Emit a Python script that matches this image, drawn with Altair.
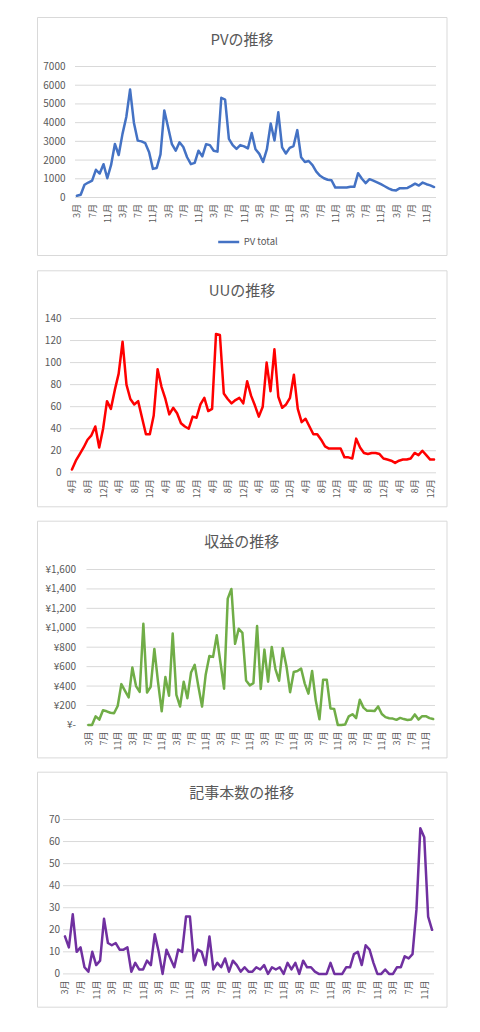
import altair as alt
import pandas as pd

FONT = "Noto Sans CJK JP"
TEXT_GRAY = "#595959"
GRID_GRAY = "#d9d9d9"

# ---------------- data ----------------
pv_values = [
    90, 150, 680, 800, 900, 1480, 1280, 1780, 1030, 1740,
    2860, 2270, 3400, 4300, 5770, 4000, 3040, 3000, 2900, 2420,
    1530, 1580, 2300, 4650, 3750, 2850, 2500, 2950, 2700, 2150,
    1780, 1850, 2500, 2200, 2850, 2800, 2500, 2450, 5330, 5230,
    3130, 2800, 2600, 2800, 2730, 2620, 3450, 2580, 2330, 1900,
    2580, 3950, 3050, 4550, 2680, 2350, 2650, 2750, 3600, 2150,
    1900, 1950, 1730, 1380, 1160, 1030, 950, 920, 530, 530,
    530, 530, 570, 570, 1300, 1000, 770, 980, 900, 810,
    710, 600, 490, 400, 380, 500, 500, 510, 620, 740,
    640, 800, 710, 650, 560,
]

uu_values = [
    3, 11, 17, 23, 30, 34, 42, 23, 40, 65,
    58, 75, 90, 119, 80, 67, 62, 65, 50, 35,
    35, 52, 94, 78, 67, 53, 59, 54, 45, 42,
    40, 51, 50, 62, 68, 56, 58, 126, 125, 72,
    67, 63, 66, 68, 63, 83, 70, 61, 51, 60,
    100, 74, 112, 69, 59, 62, 68, 89, 58, 46,
    49, 42, 35, 35, 30, 24, 22, 22, 22, 22,
    14, 14, 13, 31, 23, 18, 17, 18, 18, 17,
    13, 12, 11, 9, 11, 12, 12, 13, 18, 16,
    20, 16, 12, 12,
]

revenue_values = [
    0, 0, 88, 55, 150, 140, 125, 120, 195, 420,
    350, 283, 592, 400, 340, 1042, 333, 393, 782, 440,
    140, 492, 300, 940, 310, 190, 445, 275, 540, 618,
    395, 188, 520, 710, 700, 922, 645, 373, 1300, 1400,
    835, 990, 948, 457, 407, 430, 1018, 370, 775, 445,
    803, 575, 455, 790, 605, 337, 545, 555, 580, 425,
    322, 555, 250, 58, 465, 465, 170, 165, 0, 0,
    3, 88, 110, 70, 258, 178, 145, 145, 142, 190,
    112, 80, 68, 65, 52, 72, 60, 50, 55, 108,
    55, 90, 90, 70, 60,
]

articles_values = [
    17, 12, 27, 10, 12, 3, 1, 10, 4, 6,
    25, 14, 13, 14, 11, 11, 12, 1, 5, 2,
    2, 6, 4, 18, 10, 0, 11, 7, 3, 11,
    10, 26, 26, 6, 11, 10, 4, 17, 2, 5,
    3, 7, 1, 6, 4, 1, 3, 1, 1, 3,
    2, 4, 0, 3, 2, 3, 0, 5, 2, 5,
    0, 6, 3, 3, 1, 0, 0, 0, 5, 0,
    0, 0, 3, 3, 9, 10, 4, 13, 11, 5,
    0, 0, 2, 0, 0, 3, 3, 8, 7, 9,
    29, 66, 62, 26, 20,
]

titles = ["PVの推移", "UUの推移", "収益の推移", "記事本数の推移"]
legend_name = "PV total"
colors = ["#4472C4", "#FF0000", "#70AD47", "#7030A0"]

pv_ticks = [0, 1000, 2000, 3000, 4000, 5000, 6000, 7000]
uu_ticks = [0, 20, 40, 60, 80, 100, 120, 140]
revenue_ticks = [0, 200, 400, 600, 800, 1000, 1200, 1400, 1600]
articles_ticks = [0, 10, 20, 30, 40, 50, 60, 70]


def month_keys(start_year, start_month, n):
    keys = []
    y, m = start_year, start_month
    for _ in range(n):
        keys.append(f"{y}年{m}月")
        m += 1
        if m > 12:
            m = 1
            y += 1
    return keys


def month_of(key):
    return int(key.split("年")[1].rstrip("月"))


# ---------------- layout (page pixel coordinates) ----------------
BOX_L, BOX_R = 37.5, 447
COMMON_L = 62          # shared origin of every panel's plot group
COMMON_W = 374


def panel(keys, values, color, title, label_months, ticks, y_label_expr,
          y_label_pad, plot_l, plot_t, plot_w, plot_h, box_t, box_b,
          title_x, title_y, legend=False):
    df = pd.DataFrame({"月": keys, "値": values, "系列": [legend_name] * len(keys)})
    label_vals = [k for k in keys if month_of(k) in label_months]
    x0 = plot_l - COMMON_L          # where this panel's plot area starts in the group
    x1 = x0 + plot_w

    x = alt.X(
        "月:O", sort=keys,
        scale=alt.Scale(type="point", padding=0.5, range=[x0, x1]),
        axis=alt.Axis(
            values=label_vals, labelExpr="split(datum.value, '年')[1]",
            labelAngle=270, labelFontSize=9, labelColor=TEXT_GRAY, labelFont=FONT,
            labelPadding=6, labelOverlap=False, ticks=False, grid=False,
            domain=False, title=None,
        ),
    )
    yaxis_kw = dict(
        values=ticks, grid=False, domain=False, ticks=False,
        labelColor=TEXT_GRAY, labelFontSize=10, labelFont=FONT,
        labelPadding=y_label_pad, offset=-x0, title=None,
    )
    if y_label_expr:
        yaxis_kw["labelExpr"] = y_label_expr
    else:
        yaxis_kw["format"] = "d"
    yscale = alt.Scale(domain=[0, ticks[-1]], nice=False)
    y = alt.Y("値:Q", scale=yscale, axis=alt.Axis(**yaxis_kw))

    enc = dict(x=x, y=y)
    if legend:
        enc["color"] = alt.Color(
            "系列:N",
            scale=alt.Scale(domain=[legend_name], range=[color]),
            legend=alt.Legend(
                title=None, orient="none",
                legendX=216.7 - COMMON_L, legendY=240 - plot_t - 10.5,
                symbolType="stroke", symbolSize=441, symbolStrokeWidth=2.5,
                labelFontSize=9.5, labelColor=TEXT_GRAY, labelFont=FONT,
                labelOffset=3, padding=0,
            ),
        )
        line = alt.Chart(df).mark_line(strokeWidth=2.5, strokeJoin="round",
                                       strokeCap="round").encode(**enc)
    else:
        line = alt.Chart(df).mark_line(color=color, strokeWidth=2.5, strokeJoin="round",
                                       strokeCap="round").encode(**enc)

    grid = alt.Chart(pd.DataFrame({"値": ticks})).mark_rule(
        color=GRID_GRAY, strokeWidth=1
    ).encode(
        y=alt.Y("値:Q", scale=yscale, axis=alt.Axis(**yaxis_kw)),
        x=alt.value(x0), x2=alt.value(x1),
    )

    border = alt.Chart(pd.DataFrame({"b": [0]})).mark_rect(
        fill="white", fillOpacity=0, stroke=GRID_GRAY, strokeWidth=1
    ).encode(
        x=alt.value(BOX_L - COMMON_L), x2=alt.value(BOX_R - COMMON_L),
        y=alt.value(box_t - plot_t), y2=alt.value(box_b - plot_t),
    )

    head = alt.Chart(pd.DataFrame({"t": [title]})).mark_text(
        font=FONT, fontSize=15, color=TEXT_GRAY, align="center", baseline="middle"
    ).encode(
        text="t:N", x=alt.value(title_x - COMMON_L), y=alt.value(title_y - plot_t)
    )

    return alt.layer(border, grid, line, head).properties(width=COMMON_W, height=plot_h)


pv_keys = month_keys(2016, 3, len(pv_values))
uu_keys = month_keys(2016, 4, len(uu_values))
rev_keys = month_keys(2016, 3, len(revenue_values))
art_keys = month_keys(2016, 3, len(articles_values))

p1 = panel(pv_keys, pv_values, colors[0], titles[0], [3, 7, 11], pv_ticks, None, 10,
           plot_l=75, plot_t=66, plot_w=361, plot_h=131, box_t=17, box_b=255,
           title_x=242, title_y=39.3, legend=True)
p2 = panel(uu_keys, uu_values, colors[1], titles[1], [4, 8, 12], uu_ticks, None, 9,
           plot_l=70, plot_t=316.7, plot_w=366, plot_h=154.3, box_t=269, box_b=505,
           title_x=242, title_y=289.3)
p3 = panel(rev_keys, revenue_values, colors[2], titles[2], [3, 7, 11], revenue_ticks,
           "datum.value == 0 ? '¥-' : '¥' + format(datum.value, ',')", 11,
           plot_l=86.5, plot_t=567.3, plot_w=348.5, plot_h=155.4, box_t=519, box_b=755.7,
           title_x=241.7, title_y=540)
p4 = panel(art_keys, articles_values, colors[3], titles[3], [3, 7, 11], articles_ticks, None, 3.5,
           plot_l=63, plot_t=817.3, plot_w=371, plot_h=154.4, box_t=770, box_b=1005,
           title_x=241.7, title_y=791)

chart = alt.concat(p1, p2, p3, p4, columns=1, align="none", spacing=13).properties(
    padding={"left": 29, "top": 8.5, "right": 5, "bottom": 5},
    background="white",
).configure_view(strokeWidth=0)

chart.save("out.html", embed_options={"renderer": "svg", "actions": False})
